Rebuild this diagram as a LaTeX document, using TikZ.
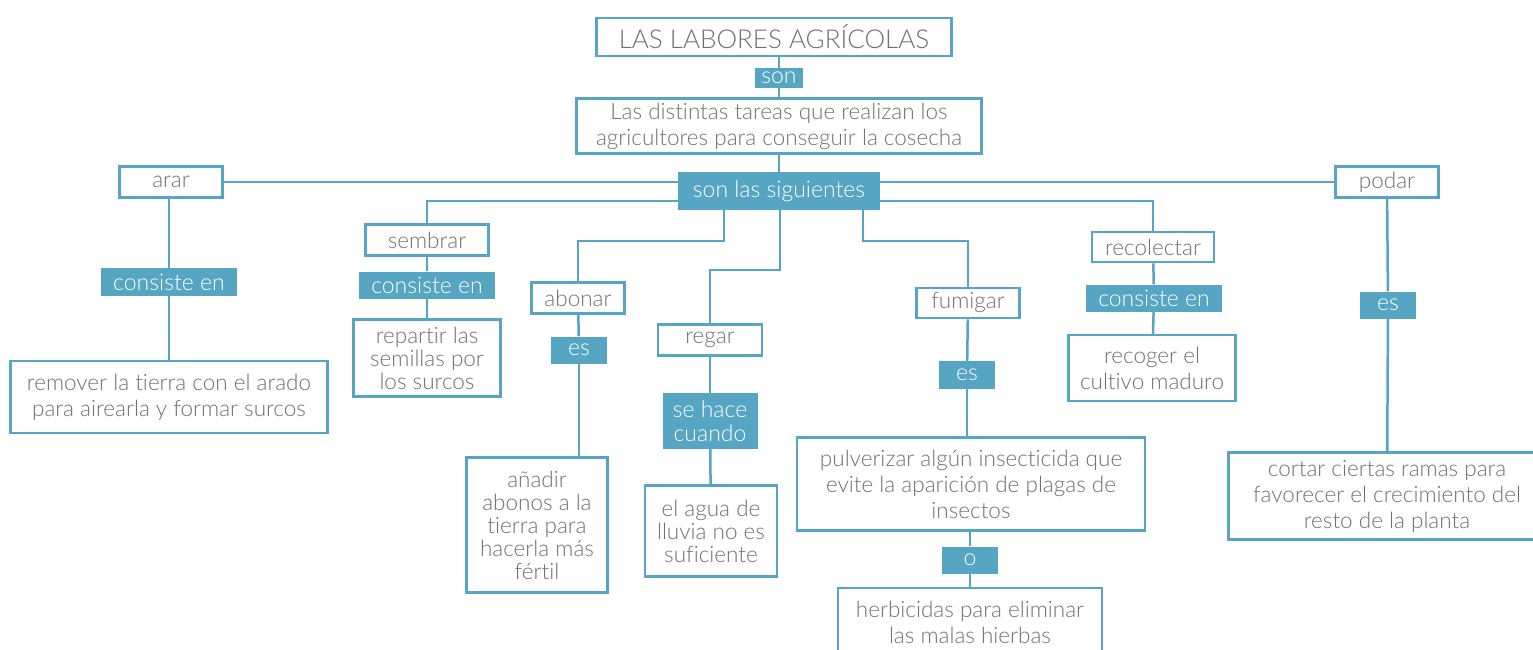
\documentclass[tikz,border=0pt]{standalone}
\usepackage{fontspec}
\IfFontExistsTF{Lato Light}{\setmainfont{Lato Light}[Ligatures={NoCommon,NoRare}]}{\setmainfont{Lato}[Ligatures={NoCommon,NoRare}]}
\usetikzlibrary{backgrounds}
\definecolor{azul}{HTML}{55A5C3}
\definecolor{gris}{HTML}{707070}
\begin{document}
\begin{tikzpicture}[x=1pt,y=-1pt,
    caja/.style={draw=azul,line width=2.5pt,fill=white,text=gris,inner sep=0pt,align=center,font=\fontsize{22.5}{26}\selectfont},
    apretada/.style={font=\fontsize{22.5}{23}\selectfont},
    enlace/.style={fill=azul,text=white,inner sep=0pt,align=center,font=\fontsize{23}{24}\selectfont},
    linea/.style={draw=azul,line width=2.5pt}]
    \useasboundingbox (0,0) rectangle (1533,649);
    % centro
    \node[caja,minimum width=355,minimum height=38,font=\fontsize{26}{30}\selectfont] (titulo) at (774,37) {LAS LABORES AGRÍCOLAS};
    \node[enlace,minimum width=48,minimum height=20] (son) at (779,78) {son};
    \node[caja,minimum width=405,minimum height=55] (tareas) at (779,126) {Las distintas tareas que realizan los\\agricultores para conseguir la cosecha};
    \node[enlace,minimum width=202,minimum height=38] (siguientes) at (779,191) {son las siguientes};
    % arar
    \node[caja,minimum width=103,minimum height=31] (arar) at (171,182) {arar};
    \node[enlace,minimum width=136,minimum height=28] (consA) at (169,282) {consiste en};
    \node[caja,minimum width=317,minimum height=72] (remover) at (169,397) {remover la tierra con el arado\\para airearla y formar surcos};
    % sembrar
    \node[caja,minimum width=123,minimum height=31] (sembrar) at (427,240) {sembrar};
    \node[enlace,minimum width=136,minimum height=27] (consS) at (427,285) {consiste en};
    \node[caja,apretada,minimum width=147,minimum height=77] (repartir) at (427,358) {repartir las\\semillas por\\los surcos};
    % abonar
    \node[caja,minimum width=93,minimum height=31] (abonar) at (578,298) {abonar};
    \node[enlace,minimum width=56,minimum height=27] (esA) at (579,350) {es};
    \node[caja,apretada,minimum width=141,minimum height=135] (anadir) at (537,525) {añadir\\abonos a la\\tierra para\\hacerla más\\fértil};
    % regar
    \node[caja,minimum width=104,minimum height=31] (regar) at (710,340) {regar};
    \node[enlace,minimum width=95,minimum height=56] (cuando) at (710,421) {se hace\\cuando};
    \node[caja,apretada,minimum width=132,minimum height=91] (agua) at (711,531) {el agua de\\lluvia no es\\suficiente};
    % fumigar
    \node[caja,minimum width=103,minimum height=30] (fumigar) at (968,303) {fumigar};
    \node[enlace,minimum width=56,minimum height=28] (esF) at (967,375) {es};
    \node[caja,minimum width=348,minimum height=93] (pulverizar) at (971,484) {pulverizar algún insecticida que\\evite la aparición de plagas de\\insectos};
    \node[enlace,minimum width=56,minimum height=27] (o) at (970,560) {o};
    \node[caja,minimum width=264,minimum height=68] (herbicidas) at (970,622) {herbicidas para eliminar\\las malas hierbas};
    % recolectar
    \node[caja,minimum width=122,minimum height=30] (recolectar) at (1153,247) {recolectar};
    \node[enlace,minimum width=136,minimum height=27] (consR) at (1154,298) {consiste en};
    \node[caja,minimum width=167,minimum height=66] (recoger) at (1152,368) {recoger el\\cultivo maduro};
    % podar
    \node[caja,minimum width=103,minimum height=31] (podar) at (1387,182) {podar};
    \node[enlace,minimum width=56,minimum height=27] (esP) at (1388,305) {es};
    \node[caja,minimum width=317,minimum height=87] (cortar) at (1387,496) {cortar ciertas ramas para\\favorecer el crecimiento del\\resto de la planta};
    \begin{pgfonlayer}{background}
    \draw[linea] (son) -- (son |- titulo.south);
    \draw[linea] (son) -- (tareas);
    \draw[linea] (tareas) -- (siguientes);
    \draw[linea] (arar.east) -- (podar.west);
    \draw[linea] ([yshift=-10pt]siguientes.center) -| (sembrar.north);
    \draw[linea] ([yshift=-10pt]siguientes.center) -| (recolectar.north);
    \draw[linea] ([xshift=-55pt]siguientes.south) -- ++(0,31) -| (abonar.north);
    \draw[linea] ([xshift=1pt]siguientes.south) -- ++(0,60) -| (regar.north);
    \draw[linea] ([xshift=84pt]siguientes.south) -- ++(0,31) -| (fumigar.north);
    \draw[linea] (consA) -- (consA |- arar.south);
    \draw[linea] (consA) -- (remover);
    \draw[linea] (sembrar) -- (consS);
    \draw[linea] (consS) -- (repartir);
    \draw[linea] (abonar) -- (esA);
    \draw[linea] (esA) -- (esA |- anadir.north);
    \draw[linea] (regar) -- (cuando);
    \draw[linea] (cuando) -- (agua);
    \draw[linea] (fumigar) -- (esF);
    \draw[linea] (esF) -- (esF |- pulverizar.north);
    \draw[linea] (o) -- (o |- pulverizar.south);
    \draw[linea] (o) -- (herbicidas);
    \draw[linea] (recolectar) -- (consR);
    \draw[linea] (consR) -- (recoger);
    \draw[linea] (podar) -- (esP);
    \draw[linea] (esP) -- (cortar);
    \end{pgfonlayer}
\end{tikzpicture}
\end{document}
